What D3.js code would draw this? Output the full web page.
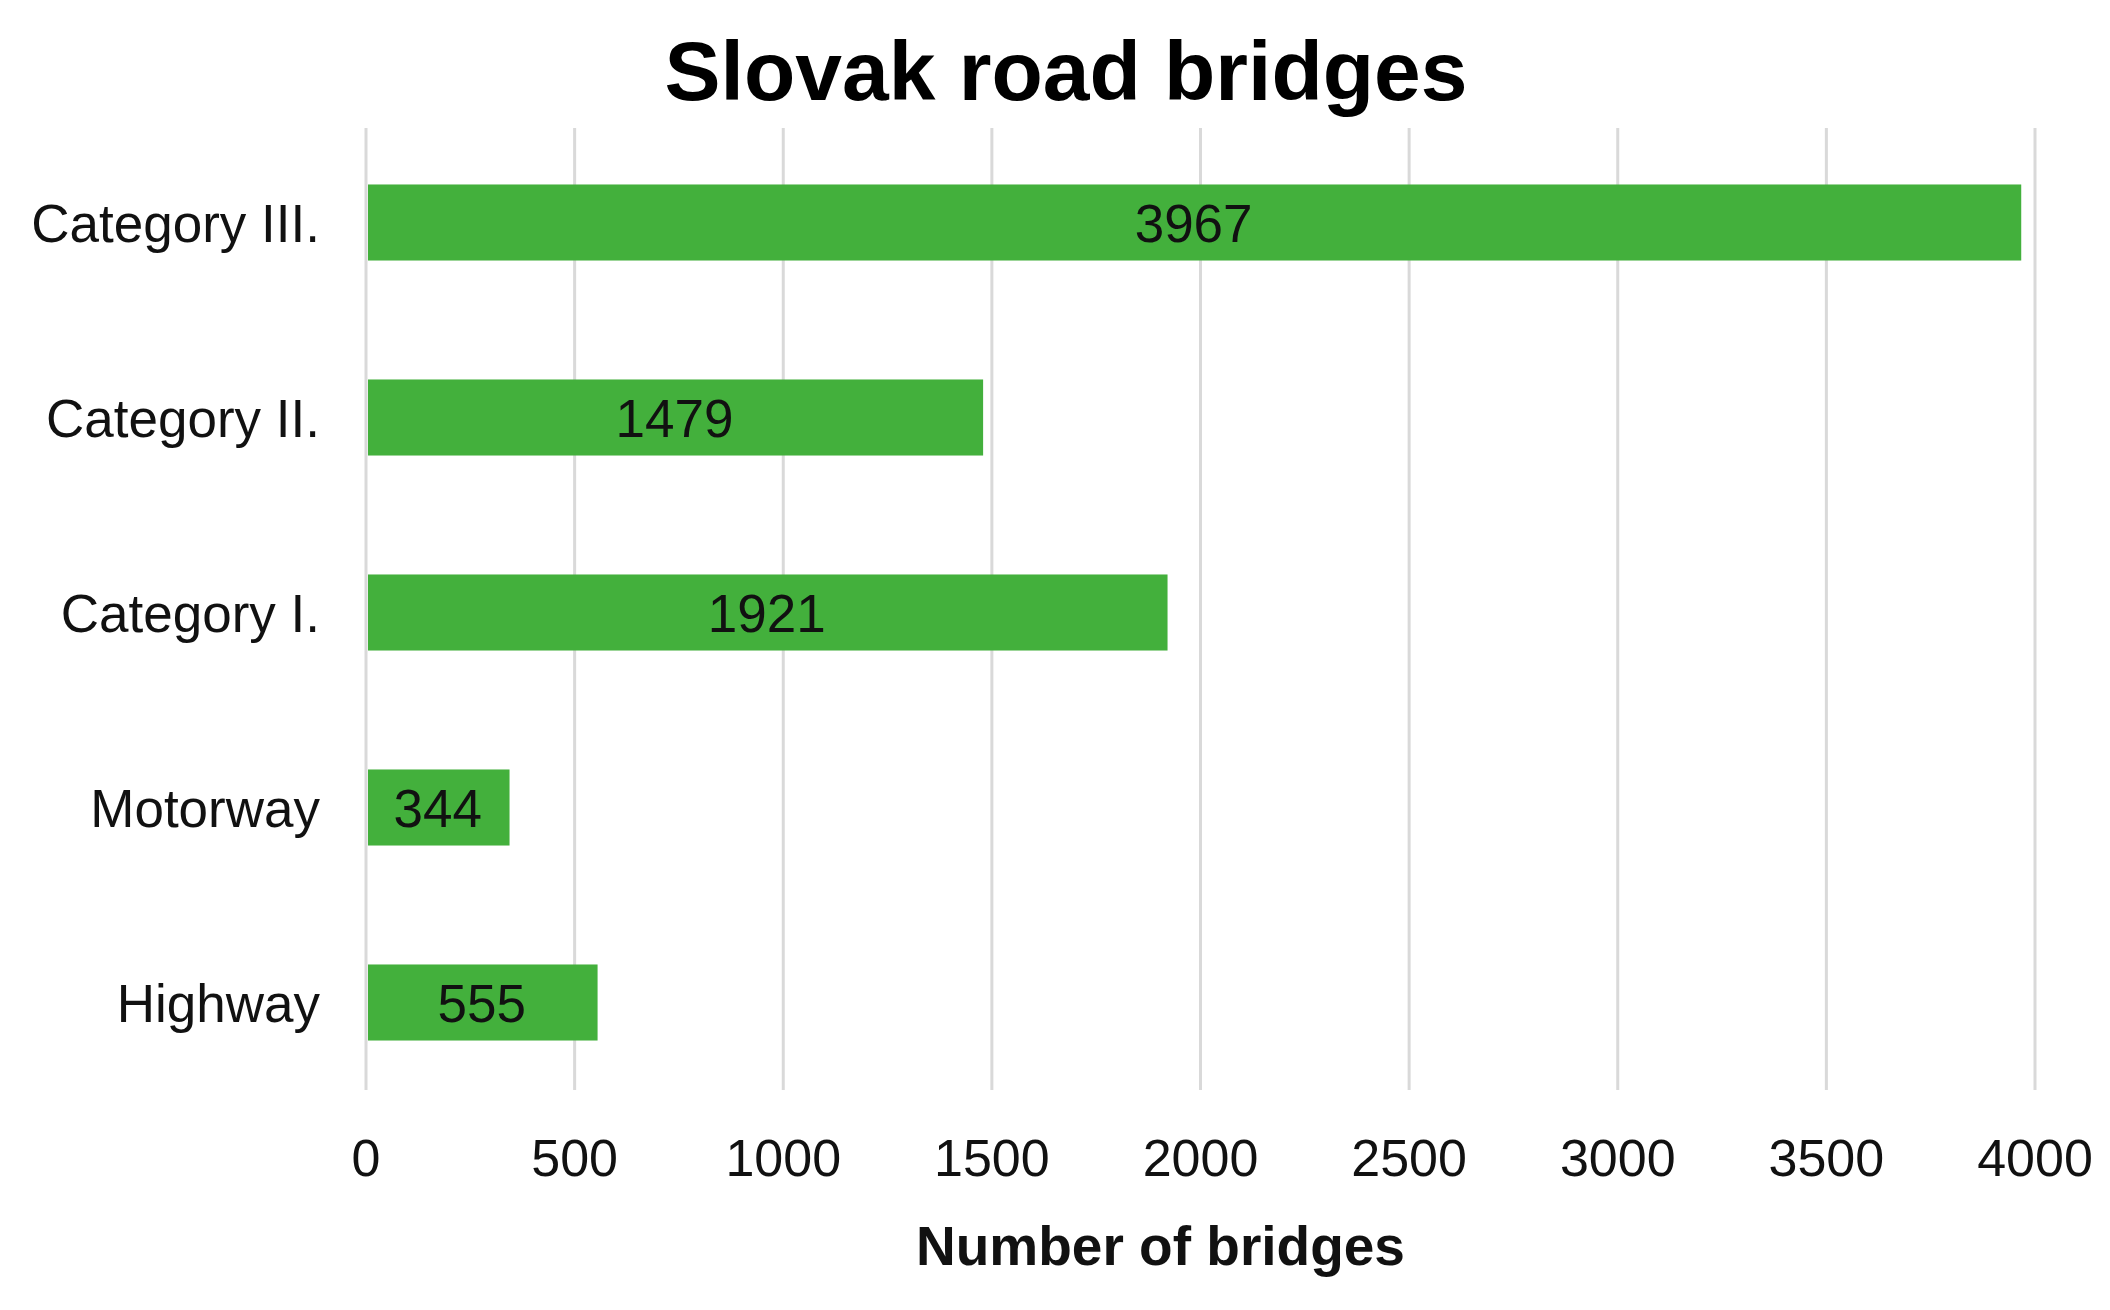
<!DOCTYPE html>
<html><head><meta charset="utf-8">
<script src="https://cdn.jsdelivr.net/npm/d3@7"></script>
<style>body{margin:0;background:#fff}text{font-family:"Liberation Sans",Arial,sans-serif}</style>
</head><body>
<svg id="c" width="2110" height="1310"></svg>
<script>
const categories = ["Category III.","Category II.","Category I.","Motorway","Highway"];
const values = [3967,1479,1921,344,555];
const ticks = [0,500,1000,1500,2000,2500,3000,3500,4000];

const svg = d3.select("#c");
const x = d3.scaleLinear().domain([0,4000]).range([366,2035]);
const y = d3.scaleBand().domain(categories).range([125,1100]).paddingInner(0.61).paddingOuter(0.305);

svg.append("g").selectAll("line").data(ticks).join("line")
  .attr("x1",d=>x(d)).attr("x2",d=>x(d)).attr("y1",128).attr("y2",1090)
  .attr("stroke","#d9d9d9").attr("stroke-width",3);

svg.append("g").selectAll("rect").data(values).join("rect")
  .attr("x",x(0)+2).attr("y",(d,i)=>y(categories[i]))
  .attr("width",d=>x(d)-x(0)-2).attr("height",y.bandwidth())
  .attr("fill","#43b03c");

svg.append("g").selectAll("text").data(values).join("text")
  .attr("x",d=>(x(0)+x(d))/2).attr("y",(d,i)=>y(categories[i])+y.bandwidth()/2)
  .attr("dy","0.36em").attr("text-anchor","middle").attr("font-size",53).attr("fill","#111")
  .text(d=>d);

svg.append("g").selectAll("text").data(categories).join("text")
  .attr("x",320).attr("y",d=>y(d)+y.bandwidth()/2).attr("dy","0.36em")
  .attr("text-anchor","end").attr("font-size",53).attr("fill","#111").text(d=>d);

svg.append("g").selectAll("text").data(ticks).join("text")
  .attr("x",d=>x(d)).attr("y",1157).attr("dy","0.36em").attr("text-anchor","middle")
  .attr("font-size",52).attr("fill","#111").text(d=>d);

svg.append("text").attr("x",(x(0)+x(4000))/2 - 40).attr("y",1245).attr("dy","0.36em")
  .attr("text-anchor","middle").attr("font-size",55).attr("font-weight","bold").attr("fill","#111")
  .text("Number of bridges");

svg.append("text").attr("x",1066).attr("y",70).attr("dy","0.36em")
  .attr("text-anchor","middle").attr("font-size",84).attr("font-weight","bold").attr("fill","#000")
  .text("Slovak road bridges");
</script>
</body></html>
